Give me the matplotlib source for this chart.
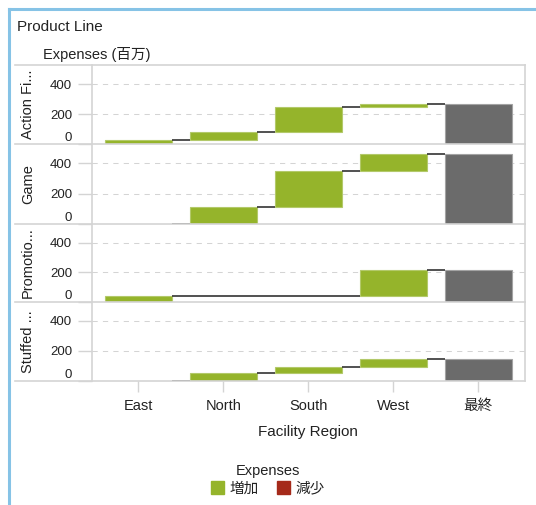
import matplotlib
matplotlib.use("Agg")
import matplotlib.pyplot as plt
from matplotlib.patches import Patch
from matplotlib.lines import Line2D

plt.rcParams['font.family'] = ['Liberation Sans', 'Noto Sans CJK JP']

# ---- data ----
regions = ['East', 'North', 'South', 'West']
total_label = '最終'
product_lines = ['Action Fi...', 'Game', 'Promotio...', 'Stuffed ...']
action_figures = [30, 53, 162, 25]
game = [0, 112, 233, 117]
promotions = [42, 0, 0, 172]
stuffed = [0, 55, 35, 57]
series = [action_figures, game, promotions, stuffed]
y_ticks = [0, 200, 400]
legend_labels = ['増加', '減少']

# ---- style ----
W, H = 536, 505
GREEN = '#95b42b'
GREEN_EDGE = '#b3c96a'
RED = '#a52a1a'
GRAY = '#6b6b6b'
GRAY_EDGE = '#a3a3a3'
LINE = '#d4d4d4'
TEXT = '#222222'
CONN = '#333333'

fig = plt.figure(figsize=(W / 100, H / 100), dpi=100)

def fx(px):
    return px / W

def fy(py):
    return 1 - py / H

left_px, right_px = 91.7, 525
bounds = [65.3, 144, 224, 302, 381]
bar_w = 0.79
ymax = 525

axes = []
for k, vals in enumerate(series):
    top, bot = bounds[k], bounds[k + 1]
    ax = fig.add_axes([fx(left_px), fy(bot), fx(right_px - left_px), (bot - top) / H])
    axes.append(ax)
    ax.set_xlim(-0.55, 4.55)
    ax.set_ylim(0, ymax)
    for s in ['top', 'bottom']:
        ax.spines[s].set_visible(False)
    for s in ['left', 'right']:
        ax.spines[s].set_color(LINE)
        ax.spines[s].set_linewidth(1.2)
    # grid
    for t in y_ticks[1:]:
        ax.axhline(t, color=LINE, lw=0.75, linestyle=(0, (5, 5)), zorder=0)
    ax.set_yticks(y_ticks)
    ax.set_yticklabels([str(t) for t in y_ticks])
    ax.tick_params(axis='y', length=10, color=LINE, width=1, pad=4,
                   labelsize=9.5, labelcolor=TEXT)
    ax.get_yticklabels()[0].set_va('bottom')

    cum = 0
    levels = []
    for i, v in enumerate(vals):
        if v != 0:
            ax.bar(i, v, bottom=cum, width=bar_w, color=GREEN if v > 0 else RED,
                   edgecolor=GREEN_EDGE if v > 0 else RED, linewidth=0.8, zorder=2)
        elif i > 0:
            ax.plot([i - bar_w / 2, i + bar_w / 2], [cum, cum], color=CONN, lw=1.2,
                    zorder=3, solid_capstyle='butt')
        cum += v
        levels.append(cum)
    total = cum
    ax.bar(4, total, width=bar_w, color=GRAY, edgecolor=GRAY_EDGE, linewidth=0.8, zorder=2)
    for i in range(4):
        ax.plot([i + bar_w / 2, i + 1 - bar_w / 2], [levels[i], levels[i]],
                color=CONN, lw=1.2, zorder=3, solid_capstyle='butt')

    ax.set_xticks(range(5))
    if k < 3:
        ax.tick_params(axis='x', length=0, labelbottom=False)
    else:
        ax.set_xticklabels(regions + [total_label])
        ax.tick_params(axis='x', length=8, color=LINE, width=1, pad=5,
                       labelsize=10.5, labelcolor=TEXT)
    fig.text(fx(28), fy((top + bot) / 2), product_lines[k], rotation=90,
             ha='center', va='center', fontsize=10.5, color=TEXT)

# separators extending into label area
for b in bounds:
    fig.add_artist(Line2D([fx(15), fx(right_px)], [fy(b), fy(b)], color=LINE, lw=1.2))

# outer light-blue frame (top and left)
fig.add_artist(Line2D([fx(9), fx(W)], [fy(9.3), fy(9.3)], color='#86c3e6', lw=2.2))
fig.add_artist(Line2D([fx(9), fx(9)], [fy(9.3), fy(H)], color='#86c3e6', lw=2.2))

fig.text(fx(17), fy(27), 'Product Line', ha='left', va='center', fontsize=11, color=TEXT)
fig.text(fx(43), fy(54), 'Expenses (百万)', ha='left', va='center', fontsize=10.5, color=TEXT)
fig.text(fx((left_px + right_px) / 2), fy(432), 'Facility Region', ha='center', va='center',
         fontsize=11, color=TEXT)

handles = [Patch(facecolor=GREEN, edgecolor=GREEN), Patch(facecolor=RED, edgecolor=RED)]
leg = fig.legend(handles, legend_labels, title='Expenses', loc='center',
                 bbox_to_anchor=(fx(268), fy(480)), ncol=2, frameon=False,
                 fontsize=10.5, title_fontsize=10.5, handlelength=0.9, handleheight=0.9,
                 handletextpad=0.4, columnspacing=1.2, borderpad=0, labelspacing=0.2)
for t in leg.get_texts():
    t.set_color(TEXT)
leg.get_title().set_color(TEXT)

fig.savefig('out.png', dpi=100)
